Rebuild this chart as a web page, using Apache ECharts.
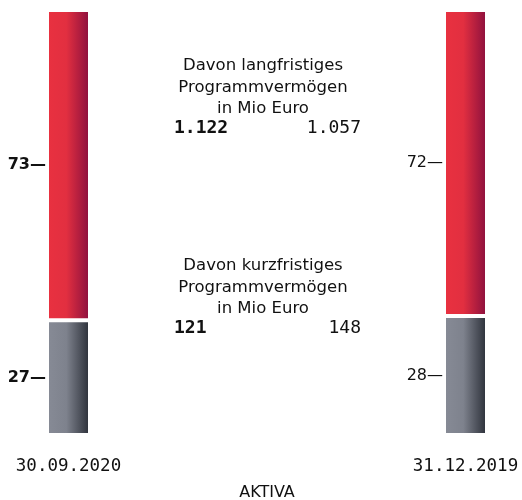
<!DOCTYPE html>
<html>
<head>
<meta charset="utf-8">
<script src="https://cdn.jsdelivr.net/npm/echarts@6/dist/echarts.min.js"></script>
<style>html,body{margin:0;padding:0;background:#fff}#chart{width:522px;height:500px}</style>
</head>
<body>
<div id="chart"></div>
<script>
const dates = ['30.09.2020', '31.12.2019'];
const longShare = [73, 72];
const shortShare = [27, 28];
const longMio = [1122, 1057];
const shortMio = [121, 148];

const SANS = '"DejaVu Sans", sans-serif';
const MONO = '"DejaVu Sans Mono", monospace';
const fmt = v => String(v).replace(/\B(?=(\d{3})+(?!\d))/g, '.');

const grad = (a, b, c) => ({ type: 'linear', x: 0, y: 0, x2: 1, y2: 0,
  colorStops: [{ offset: 0, color: a }, { offset: 0.45, color: b }, { offset: 1, color: c }] });

const lbl = i => ({ show: true, position: 'left', distance: 1, formatter: '{c}\u2014',
  fontFamily: SANS, fontSize: 16, color: '#111', fontWeight: i === 0 ? 'bold' : 'normal' });

const chart = echarts.init(document.getElementById('chart'));
chart.setOption({
  animation: false,
  grid: { left: 68.5, right: 56.5, top: 10, bottom: 65, outerBoundsMode: 'none', containLabel: false },
  xAxis: { type: 'category', data: dates, boundaryGap: false,
    axisLine: { show: false }, axisTick: { show: false },
    axisLabel: { margin: 22, fontFamily: MONO, fontSize: 17.5, color: '#111', fontWeight: 500 },
    name: 'AKTIVA', nameLocation: 'middle', nameGap: 50,
    nameTextStyle: { fontFamily: SANS, fontSize: 16, color: '#111' } },
  yAxis: { type: 'value', min: 0, max: 100, show: false },
  series: [
    { type: 'bar', stack: 'a', barWidth: 43,
      itemStyle: { color: grad('#878b96', '#7e828d', '#2a2e37'), borderColor: '#fff', borderWidth: 2 },
      data: shortShare.map((v, i) => ({ value: v, label: lbl(i) })) },
    { type: 'bar', stack: 'a', barWidth: 43,
      itemStyle: { color: grad('#e93140', '#e22f40', '#8a0f3e'), borderColor: '#fff', borderWidth: 2 },
      data: longShare.map((v, i) => ({ value: v, label: lbl(i) })) }
  ],
  graphic: [
    ['Davon langfristiges\nProgrammvermögen\nin Mio Euro', 55, longMio, 128],
    ['Davon kurzfristiges\nProgrammvermögen\nin Mio Euro', 255, shortMio, 328]
  ].flatMap(([t, y, vals, ny]) => [
    { type: 'text', x: 263, y: y, style: { text: t, align: 'center', verticalAlign: 'top',
      font: '16.5px ' + SANS, lineHeight: 21.5, fill: '#111' } },
    { type: 'text', x: 174, y: ny, style: { text: fmt(vals[0]), align: 'left', verticalAlign: 'middle',
      font: 'bold 18px ' + MONO, fill: '#111' } },
    { type: 'text', x: 361, y: ny, style: { text: fmt(vals[1]), align: 'right', verticalAlign: 'middle',
      font: '18px ' + MONO, fill: '#111' } }
  ])
});
</script>
</body>
</html>
